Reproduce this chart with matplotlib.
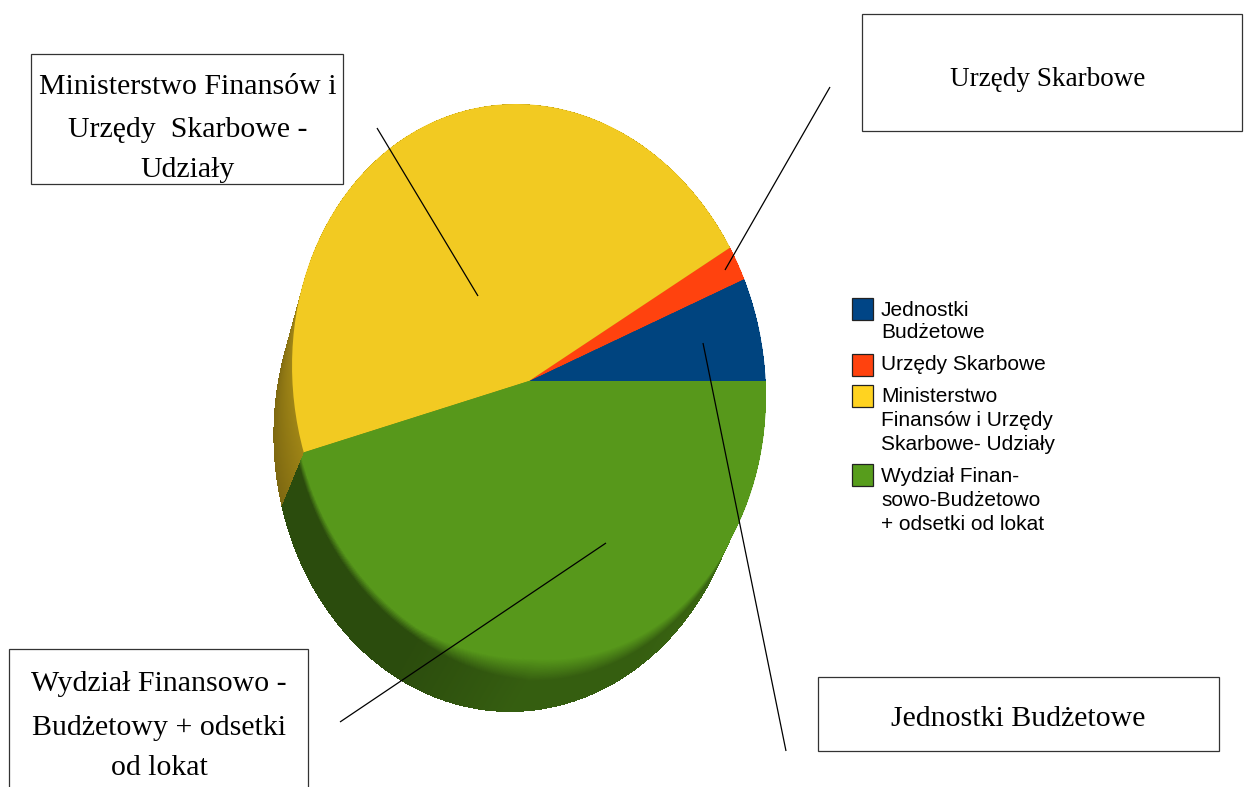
import numpy as np
import matplotlib
matplotlib.use("Agg")
import matplotlib.pyplot as plt
from matplotlib.patches import Rectangle
from matplotlib.colors import to_rgb
from matplotlib.transforms import Affine2D

categories = ["Jednostki Budżetowe", "Urzędy Skarbowe",
              "Ministerstwo Finansów i Urzędy Skarbowe - Udziały",
              "Wydział Finansowo - Budżetowy + odsetki od lokat"]
values = [6.0, 2.0, 46.15, 45.85]
face_colors = ["#00447f", "#ff420e", "#f2ca22", "#57981b"]
legend_colors = ["#004586", "#ff420e", "#ffd320", "#579d1c"]
legend_lines = [["Jednostki", "Budżetowe"], ["Urzędy Skarbowe"],
                ["Ministerstwo", "Finansów i Urzędy", "Skarbowe- Udziały"],
                ["Wydział Finan-", "sowo-Budżetowo", "+ odsetki od lokat"]]
callout_lines = [["Jednostki Budżetowe"], ["Urzędy Skarbowe"],
                 ["Ministerstwo Finansów i", "Urzędy  Skarbowe -", "Udziały"],
                 ["Wydział Finansowo -", "Budżetowy + odsetki", "od lokat"]]

W, H = 1255, 787
cx, cy, rx, ry, skew = 529.0, 381.0, 236.6, 277.0, 13.0
ext_x, ext_y = -19.0, 54.0

fig = plt.figure(figsize=(W / 100, H / 100), dpi=100, facecolor="white")

# pie axes: unit circle stretched to a tilted upright ellipse
ax = fig.add_axes([0, 0, 1, 1])
wedges, _ = ax.pie(values, colors=face_colors, startangle=0, radius=1, center=(0, 0),
                   wedgeprops=dict(linewidth=0, antialiased=True, zorder=3))
for w in wedges:
    w.set_transform(Affine2D(np.array([[1, -skew / rx, 0], [0, 1, 0], [0, 0, 1.0]])) + ax.transData)
xl = (-cx / rx, (W - cx) / rx)
yl = ((cy - H) / ry, cy / ry)

# extruded side: stacked outlines from the deepest layer up, remembering rim angle and depth
px, py = np.meshgrid(np.arange(W) + 0.5, np.arange(H) + 0.5)
tmap = np.full(px.shape, np.nan)
rim = np.zeros(px.shape)
for t in np.linspace(1, 0, 130):
    v = (cy + t * ext_y - py) / ry
    u = (px - cx - t * ext_x + skew * (1 - t) * v) / rx
    inside = u**2 + v**2 <= 1
    tmap[inside] = t
    rim[inside] = np.degrees(np.arctan2(v[inside], u[inside])) % 360
ok = ~np.isnan(tmap)
t = np.nan_to_num(tmap)
edges = np.cumsum(values) / np.sum(values) * 360
idx = np.clip(np.searchsorted(edges, rim), 0, len(values) - 1)
base = np.array([to_rgb(col) for col in face_colors])

dark = np.interp(rim, [195, 205, 240, 270, 300, 325, 345, 360],
                 [0.50, 0.50, 0.50, 0.62, 0.62, 0.68, 0.95, 1.0])
lip = np.interp(rim, [195, 240, 268, 300, 340], [0.10, 0.14, 0.02, 0.10, 0.2])
width = np.interp(rim, [195, 240, 270, 320], [0.12, 0.14, 0.40, 0.35])
ramp = np.clip((t - lip) / width, 0, 1)
shade = 1 + (dark - 1) * ramp
shade = np.where(idx == 2, 0.66 - 0.14 * t, shade)

img = np.zeros(px.shape + (4,))
img[..., :3] = np.clip(base[idx] * shade[..., None], 0, 1)
img[..., 3] = ok.astype(float)
ax.imshow(img, extent=(xl[0], xl[1], yl[0], yl[1]), origin="upper",
          interpolation="nearest", aspect="auto", zorder=1)
ax.set_aspect("auto")
ax.set_xlim(*xl)
ax.set_ylim(*yl)
ax.axis("off")

# overlay in pixel coordinates
ov = fig.add_axes([0, 0, 1, 1], facecolor="none")
ov.set_xlim(0, W)
ov.set_ylim(H, 0)
ov.axis("off")

SERIF = "Liberation Serif"
SANS = "Liberation Sans"
box_col = "#333333"

boxes = [(818, 677, 1219, 751), (862, 14, 1242, 131), (31, 54, 343, 184), (9, 649, 308, 800)]
text_y = [[719], [80], [87, 130, 170], [684, 728, 768]]
text_x = [1018, 1048, 188, 159]
text_size = [21.5, 19.5, 21.5, 21.5]
leaders = [((703, 343), (786, 751)), ((725, 270), (830, 87)),
           ((478, 296), (377, 128)), ((606, 543), (340, 722))]

for (x0, y0, x1, y1), lines, ys_, tx, fs, (p, q) in zip(boxes, callout_lines, text_y, text_x, text_size, leaders):
    ov.add_patch(Rectangle((x0, y0), x1 - x0, y1 - y0, fc="white", ec=box_col, lw=0.9, zorder=5))
    for s, yy in zip(lines, ys_):
        ov.text(tx, yy, s, family=SERIF, fontsize=fs, ha="center", va="center", color="black", zorder=6)
    ov.plot([p[0], q[0]], [p[1], q[1]], color="black", lw=0.9, zorder=7, solid_capstyle="butt")

swatch_y = [298, 354, 385, 464]
legend_text_y = [[310, 333], [365], [396, 420, 445], [476, 500, 524]]
for y0, col, lines, ly in zip(swatch_y, legend_colors, legend_lines, legend_text_y):
    ov.add_patch(Rectangle((852, y0), 21, 21.5, fc=col, ec="#222222", lw=0.9, zorder=5))
    for s, yy in zip(lines, ly):
        ov.text(881, yy, s, family=SANS, fontsize=15, ha="left", va="center", color="black", zorder=6)

fig.savefig("out.png", dpi=100)
